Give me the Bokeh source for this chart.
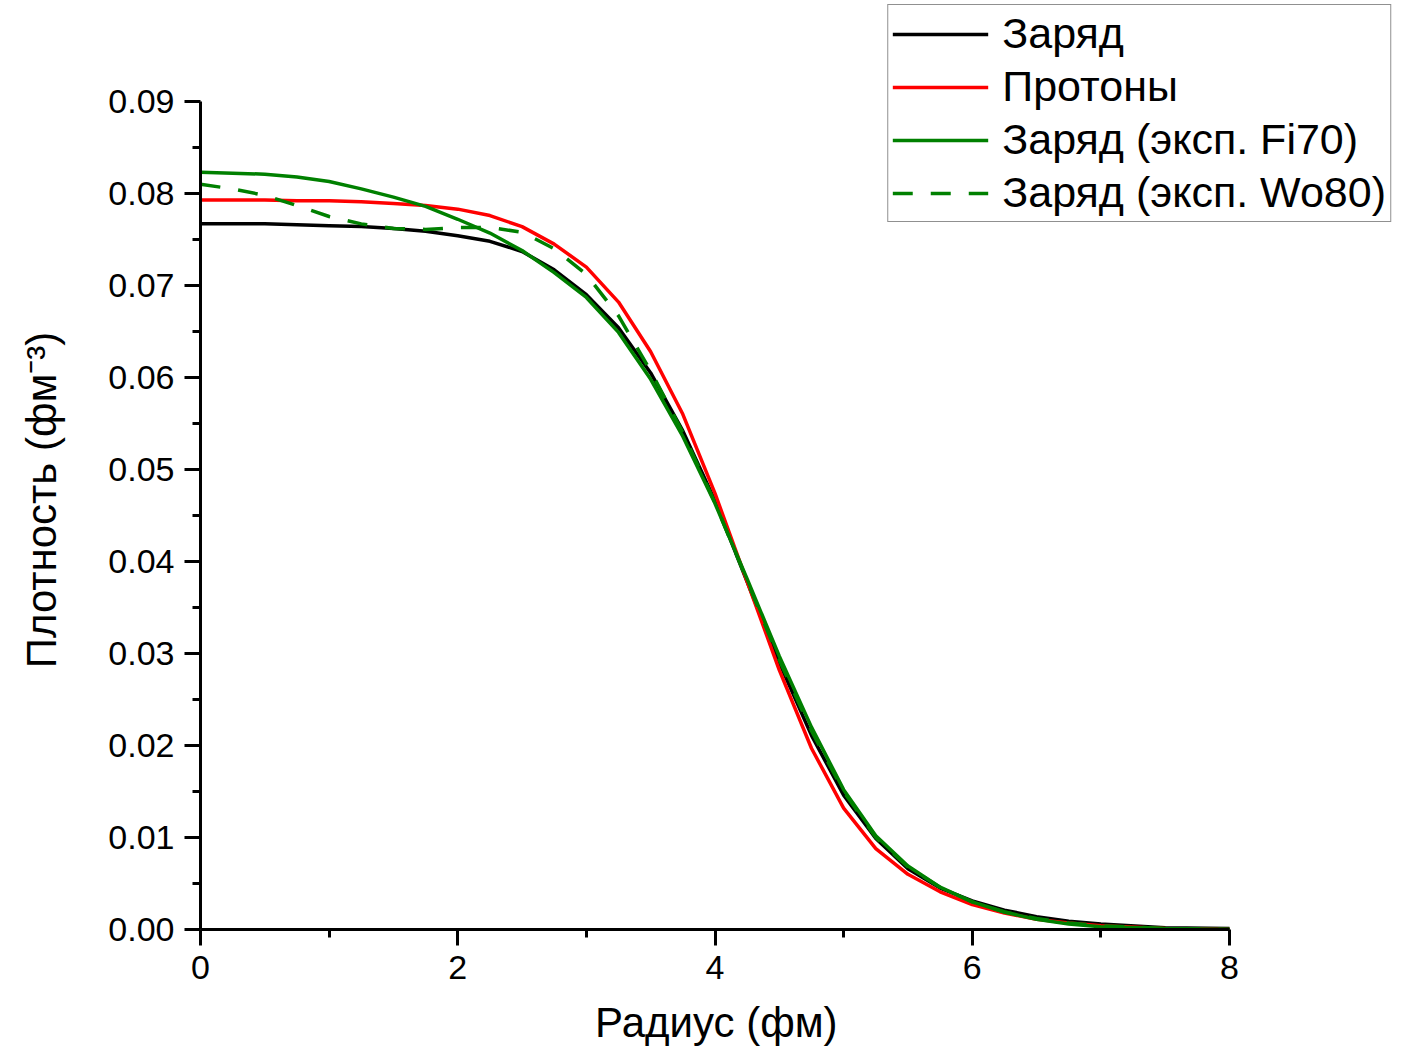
from bokeh.plotting import figure
from bokeh.models import FixedTicker, Legend, LegendItem, Range1d, NumeralTickFormatter
from bokeh.embed import file_html
from bokeh.resources import INLINE

# ---- data ----
radius = [0.0, 0.25, 0.5, 0.75, 1.0, 1.25, 1.5, 1.75, 2.0, 2.25, 2.5, 2.75,
          3.0, 3.25, 3.5, 3.75, 4.0, 4.25, 4.5, 4.75, 5.0, 5.25, 5.5, 5.75,
          6.0, 6.25, 6.5, 6.75, 7.0, 7.5, 8.0]

charge = [0.0767, 0.0767, 0.0767, 0.0766, 0.0765, 0.0764, 0.0762, 0.0759, 0.0754, 0.0748, 0.0737, 0.0717,
          0.0690, 0.0654, 0.0605, 0.0542, 0.0466, 0.0378, 0.0290, 0.0211, 0.0146, 0.0099, 0.0066, 0.0045,
          0.0031, 0.0021, 0.0014, 0.0009, 0.0006, 0.0002, 0.0001]

protons = [0.0793, 0.0793, 0.0793, 0.0792, 0.0792, 0.0791, 0.0789, 0.0787, 0.0783, 0.0776, 0.0764, 0.0745,
           0.0720, 0.0682, 0.0628, 0.0560, 0.0474, 0.0378, 0.0282, 0.0197, 0.0132, 0.0088, 0.0060, 0.0041,
           0.0027, 0.0018, 0.0011, 0.0007, 0.0004, 0.0001, 0.0000]

charge_fi70 = [0.0823, 0.0822, 0.0821, 0.0818, 0.0813, 0.0805, 0.0796, 0.0786, 0.0772, 0.0757, 0.0738, 0.0714,
               0.0687, 0.0649, 0.0598, 0.0536, 0.0463, 0.0381, 0.0297, 0.0220, 0.0152, 0.0102, 0.0069, 0.0046,
               0.0030, 0.0019, 0.0011, 0.0006, 0.0003, 0.0001, 0.0000]

charge_wo80 = [0.0810, 0.0805, 0.0798, 0.0787, 0.0775, 0.0767, 0.0762, 0.0761, 0.0763, 0.0763, 0.0758, 0.0740,
               0.0712, 0.0667, 0.0607, 0.0540, 0.0464, 0.0379, 0.0293, 0.0216, 0.0150, 0.0100, 0.0068, 0.0046,
               0.0030, 0.0019, 0.0012, 0.0007, 0.0004, 0.0001, 0.0000]

series_labels = ["Заряд", "Протоны", "Заряд (эксп. Fi70)", "Заряд (эксп. Wo80)"]

x_ticks = [0, 2, 4, 6, 8]
x_minor_ticks = [1, 3, 5, 7]
y_ticks = [0.00, 0.01, 0.02, 0.03, 0.04, 0.05, 0.06, 0.07, 0.08, 0.09]
y_minor_ticks = [0.005, 0.015, 0.025, 0.035, 0.045, 0.055, 0.065, 0.075, 0.085]

x_title = "Радиус (фм)"
y_title = "Плотность (фм⁻³)"

FONT = "Liberation Sans"
NBSP = "\u00a0"

# ---- layout geometry (pixels) ----
W, H = 1395, 1050
FRAME_LEFT, FRAME_BOTTOM = 200, 929          # where x=0 / y=0 sit
X_PIX_PER_UNIT = (1229 - 200) / 8.0          # axis 0..8 spans 200..1229
Y_PIX_PER_UNIT = (929 - 101) / 0.09          # axis 0..0.09 spans 929..101

x_end = (W - FRAME_LEFT) / X_PIX_PER_UNIT
y_end = FRAME_BOTTOM / Y_PIX_PER_UNIT

p = figure(width=W, height=H, output_backend="svg", toolbar_location=None,
           x_range=Range1d(0, x_end), y_range=Range1d(0, y_end),
           min_border_left=FRAME_LEFT, min_border_right=0, min_border_top=0,
           min_border_bottom=H - FRAME_BOTTOM)

p.outline_line_color = None
p.xgrid.visible = False
p.ygrid.visible = False
p.background_fill_color = "white"
p.border_fill_color = "white"

LW = 3.5
r1 = p.line(radius, charge, line_color="#000000", line_width=LW)
r2 = p.line(radius, protons, line_color="#FF0000", line_width=LW)
r3 = p.line(radius, charge_fi70, line_color="#008000", line_width=LW)
r4 = p.line(radius, charge_wo80, line_color="#008000", line_width=LW, line_dash="20 18")

for ax in (p.xaxis[0], p.yaxis[0]):
    ax.axis_line_width = 3
    ax.axis_line_color = "black"
    ax.major_tick_line_width = 3
    ax.minor_tick_line_width = 3
    ax.major_tick_in = 0
    ax.major_tick_out = 16
    ax.minor_tick_in = 0
    ax.minor_tick_out = 8
    ax.major_label_text_font = FONT
    ax.major_label_text_font_size = "34px"
    ax.major_label_text_color = "black"
    ax.axis_label_text_font = FONT
    ax.axis_label_text_font_size = "42px"
    ax.axis_label_text_font_style = "normal"
    ax.axis_label_text_color = "black"

p.xaxis[0].bounds = (0, 8)
p.yaxis[0].bounds = (0, 0.09)
p.xaxis[0].ticker = FixedTicker(ticks=x_ticks, minor_ticks=x_minor_ticks)
p.yaxis[0].ticker = FixedTicker(ticks=y_ticks, minor_ticks=y_minor_ticks)
p.yaxis[0].formatter = NumeralTickFormatter(format="0.00")
# the frame is wider/taller than the axes (room for the legend), so the
# titles are padded with no-break spaces to centre them on the axis lines
p.xaxis[0].axis_label = x_title + NBSP * 14
p.yaxis[0].axis_label = y_title + NBSP * 6
p.xaxis[0].major_label_standoff = 10
p.xaxis[0].axis_label_standoff = 17
p.yaxis[0].major_label_standoff = 10
p.yaxis[0].axis_label_standoff = 40

legend = Legend(items=[
    LegendItem(label=series_labels[0], renderers=[r1]),
    LegendItem(label=series_labels[1], renderers=[r2]),
    LegendItem(label=series_labels[2], renderers=[r3]),
    LegendItem(label=series_labels[3], renderers=[r4]),
], location="top_right")
legend.label_text_font = FONT
legend.label_text_font_size = "43px"
legend.label_text_color = "black"
legend.glyph_width = 96
legend.glyph_height = 48
legend.label_height = 48
legend.label_standoff = 14
legend.spacing = 4
legend.padding = 4
legend.margin = 4
legend.border_line_color = "#222222"
legend.border_line_width = 1
legend.background_fill_color = "white"
legend.background_fill_alpha = 1.0
p.add_layout(legend, "center")

open("out.html", "w").write(file_html(p, INLINE))
